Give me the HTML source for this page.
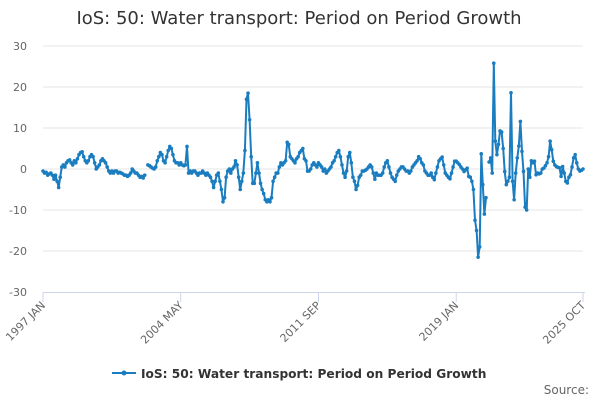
<!DOCTYPE html>
<html><head><meta charset="utf-8"><style>
body{margin:0;background:#fff;width:600px;height:400px;overflow:hidden;font-family:"DejaVu Sans","Liberation Sans",sans-serif}
svg text{font-family:"DejaVu Sans","Liberation Sans",sans-serif}
</style></head><body>
<svg id="chart" width="600" height="400" xmlns="http://www.w3.org/2000/svg">
<text x="299" y="24" text-anchor="middle" font-size="18" fill="#333">IoS: 50: Water transport: Period on Period Growth</text>
<g id="grid"></g>
<g id="yaxis"></g>
<g id="xaxis"></g>
<g id="series"></g>
<g>
<line x1="112" y1="373" x2="136" y2="373" stroke="#1a7dc0" stroke-width="2"/>
<circle cx="124" cy="373" r="2.5" fill="#1a7dc0"/>
<text x="141" y="378" font-size="12.2" font-weight="bold" fill="#333">IoS: 50: Water transport: Period on Period Growth</text>
</g>
<text x="589" y="394" text-anchor="end" font-size="12" fill="#666">Source:</text>
</svg>
<script>
const yTicks=[30,20,10,0,-10,-20,-30];
const xTickIdx=[0,88,176,264,345];
const xTickLabels=["1997 JAN","2004 MAY","2011 SEP","2019 JAN","2025 OCT"];
const values=[
-0.5,-1,-0.8,-1.5,-1.2,-1,-1.5,-2.5,-1.5,-3,-4.5,-2,
0.5,1,0.5,1.5,2,2.2,1.5,1,2,1.5,2.5,3.5,
4,4.2,3,2,1.5,2,3,3.5,3,1.5,0,0.5,
1,2,2.5,2,1.5,0.5,-0.5,-1,-0.5,-1,-0.5,-0.5,
-1,-0.8,-1,-1.2,-1.5,-1.5,-1.8,-1.5,-1,0,-0.5,-1,
-1,-1.5,-2,-1.8,-2.2,-1.5,null,1,0.8,0.5,0.2,0,
0.5,2,3,4,3.5,2,1.5,3,4.5,5.5,5,3.5,
2,1.5,1.5,1,1.5,1,0.8,1,5.5,-1,-0.5,-1,
-0.5,-0.5,-1,-1.5,-1,-1,-0.5,-1,-1.5,-1,-1.5,-2,
-3,-4.5,-3,-1.5,-1,-3,-5,-8,-7,-2,-0.5,0,
-1,0,0.5,2,1,-2,-5,-3,-1,4.5,17,18.5,
12,3,-3.5,-3.5,-1,1.5,-1,-3.5,-5,-6,-7.5,-8,
-7.5,-8,-7,-3,-2,-1,-1,0.5,1.5,1,1.5,2,
6.5,6,3,2.5,2,1.5,2.5,3,4,4.5,5,2.5,
2,-0.5,-0.5,0,1,1.5,1,0.5,1.5,1,0.5,-0.5,
0,-1,-0.5,0,0.5,1.5,2,3,4,4.5,3,1,
-1,-2,-0.5,3,4,1.5,-2,-3,-5,-4,-2,-1.5,
-0.5,-0.5,-0.3,0,0.5,1,0.5,-1,-2.5,-1,-1.5,-1.5,
-1.5,-1,0.5,1.5,2,0.5,-1,-2,-2.5,-3,-1.5,-0.5,
0,0.5,0.5,0,-0.5,-0.5,-1,-0.5,0.5,1,1.5,2,
3,2.5,1.5,1,-0.5,-1,-1.5,-1.5,-1,-2,-2.6,-1,
0.5,2,2.5,2.9,1,-1,-1.5,-2,-2.4,-1,0.5,1.9,
1.9,1.5,1.1,0.5,0,-0.6,-0.2,0.2,-1.8,-2,-3,-5,
-12.5,-15,-21.5,-19,3.7,-3.8,-11,-7,null,1.7,2.7,-1,
25.8,6.8,3.5,6,9.3,9,5,-0.6,-3.8,-3,-2,18.6,
-3,-7.5,-1,2.7,5.6,11.6,4.3,-0.6,-9.3,-10,0,-2,
2,1.5,1.9,-1.4,-1,-1.2,-1,0,0.2,0.8,1.5,3,
6.8,4.7,1.9,1,0.6,0.4,0.3,-1.8,0.6,-1,-3,-3.4,
-2,-1.4,0.5,2.7,3.5,1.5,0,-0.5,-0.3,0
];
const NS="http://www.w3.org/2000/svg";
const X0=43,X1=583,Y0=292,Y1=46,YMIN=-30,YMAX=30;
const n=values.length;
function xs(i){return X0+(X1-X0)*i/(n-1);}
function ys(v){return Y0-(v-YMIN)/(YMAX-YMIN)*(Y0-Y1);}
function mk(tag,attrs,parent){const e=document.createElementNS(NS,tag);for(const k in attrs)e.setAttribute(k,attrs[k]);parent.appendChild(e);return e;}
const grid=document.getElementById('grid'),ya=document.getElementById('yaxis'),xa=document.getElementById('xaxis'),ser=document.getElementById('series');
yTicks.forEach(t=>{
  if(t!==YMIN){const g=mk('line',{x1:X0,x2:X1,y1:ys(t),y2:ys(t),stroke:'#e6e6e6','stroke-width':1},grid);
  
  }
  const l=mk('text',{x:27,y:ys(t)+4,'text-anchor':'end','font-size':11,fill:'#666'},ya);
  
  
  l.textContent=t;
});
const ax=mk('line',{x1:X0,x2:X1+2,y1:Y0+0.5,y2:Y0+0.5,stroke:'#ccd6eb','stroke-width':1},xa);


xTickIdx.forEach((idx,k)=>{
  const x=xs(idx);
  const tk=mk('line',{x1:x,x2:x,y1:Y0,y2:Y0+10,stroke:'#ccd6eb','stroke-width':1},xa);
  
  
  const l=mk('text',{x:x+3,y:Y0+14,'text-anchor':'end','font-size':11,fill:'#666',transform:`rotate(-45 ${x+3} ${Y0+14})`},xa);
  
  
  l.textContent=xTickLabels[k];
});
let segs=[],cur=[];
values.forEach((v,i)=>{if(v===null){if(cur.length)segs.push(cur);cur=[];}else cur.push([xs(i),ys(v)]);});
if(cur.length)segs.push(cur);
segs.forEach(s=>{
  const p=mk('path',{d:'M'+s.map(q=>q[0].toFixed(1)+','+q[1].toFixed(1)).join('L'),fill:'none',stroke:'#1a7dc0','stroke-width':2,'stroke-linejoin':'round'},ser);
  
  
});
values.forEach((v,i)=>{if(v===null)return;
  const c=mk('circle',{cx:xs(i),cy:ys(v),r:1.8,fill:'#1a7dc0'},ser);
  
  
});
</script>
</body></html>
